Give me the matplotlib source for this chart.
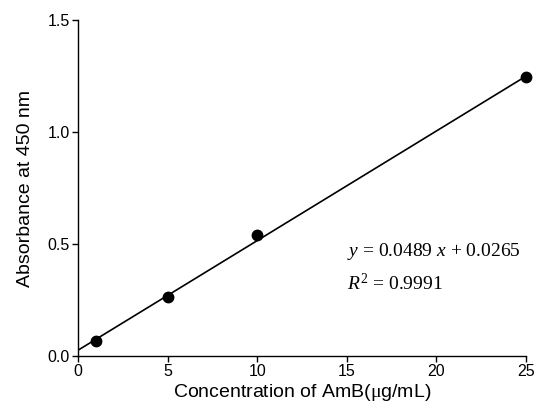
import numpy as np
from matplotlib import pyplot as plt

# standard curve data
conc = [1, 5, 10, 25]
absorb = [0.066, 0.262, 0.539, 1.245]

# fit reported on the chart
slope = 0.0489
intercept = 0.0265
r2 = 0.9991

plt.rcParams['font.family'] = ['Liberation Sans', 'DejaVu Sans']
plt.rcParams['mathtext.fontset'] = 'custom'
plt.rcParams['mathtext.rm'] = 'Liberation Serif'
plt.rcParams['mathtext.it'] = 'Liberation Serif:italic'

fig = plt.figure(figsize=(5.38, 4.11), dpi=100)
ax = fig.add_axes([0.1455, 0.1338, 0.832, 0.8175])

xfit = np.array([0, 25])
ax.plot(xfit, slope * xfit + intercept, color='k', linewidth=1.2, zorder=2)
ax.plot(conc, absorb, 'o', color='k', markersize=7.5, zorder=3, clip_on=False)

ax.set_xlim(0, 25)
ax.set_ylim(0, 1.5)
ax.set_xticks([0, 5, 10, 15, 20, 25])
ax.set_yticks([0.0, 0.5, 1.0, 1.5])
ax.set_yticklabels(['0.0', '0.5', '1.0', '1.5'])

for s in ['top', 'right']:
    ax.spines[s].set_visible(False)
for s in ['left', 'bottom']:
    ax.spines[s].set_linewidth(1.0)
ax.tick_params(direction='out', length=4, width=1.0, labelsize=11.5, pad=2)

ax.set_xlabel('Concentration of AmB($\\mathrm{\\mu}$g/mL)', fontsize=14, labelpad=2)
ax.set_ylabel('Absorbance at 450 nm', fontsize=14, labelpad=10)

eq = '$y$ = %.4f $x$ + %.4f' % (slope, intercept)
ax.text(15, 0.446, eq, fontsize=14, family='Liberation Serif')
ax.text(15, 0.295, '$R^{2}$ = %.4f' % r2, fontsize=14, family='Liberation Serif')

fig.savefig('out.png', dpi=100)
